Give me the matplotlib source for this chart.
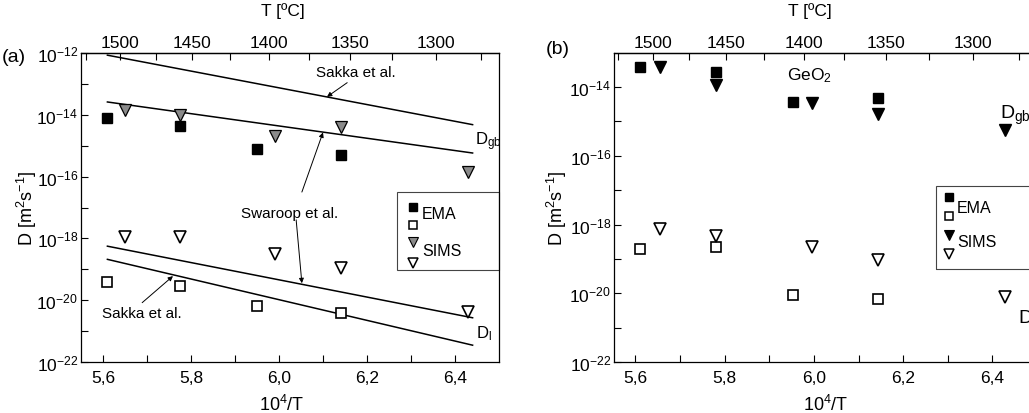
import numpy as np
import matplotlib
matplotlib.use('Agg')
import matplotlib.pyplot as plt
from matplotlib.ticker import FixedLocator, FuncFormatter, NullFormatter
from matplotlib.patches import Rectangle

plt.rcParams['font.family'] = ['Liberation Sans', 'DejaVu Sans']
plt.rcParams['mathtext.default'] = 'regular'

# ---- panel (a) data ----
a_x_ema = [5.61, 5.775, 5.95, 6.14]
a_x_sims = [5.65, 5.775, 5.99, 6.14, 6.43]
a_ema_gb = [7.6e-15, 4.2e-15, 7.8e-16, 4.9e-16]
a_ema_l = [4.0e-20, 2.8e-20, 6.3e-21, 3.8e-21]
a_sims_gb = [1.4e-14, 1.0e-14, 2.1e-15, 3.9e-15, 1.45e-16]
a_sims_l = [1.1e-18, 1.1e-18, 3.1e-19, 1.1e-19, 4.0e-21]

# literature lines (end points)
line_x = [5.61, 6.44]
sakka_gb = [8.5e-13, 4.8e-15]
swaroop_gb = [2.6e-14, 5.8e-16]
swaroop_l = [5.6e-19, 2.7e-21]
sakka_l = [2.1e-19, 3.5e-22]

# ---- panel (b) data (GeO2) ----
b_x_ema = [5.61, 5.78, 5.954, 6.144]
b_x_sims = [5.656, 5.78, 5.995, 6.144, 6.428]
b_ema_gb = [3.7e-14, 2.7e-14, 3.7e-15, 4.7e-15]
b_ema_l = [2.0e-19, 2.2e-19, 8.9e-21, 6.8e-21]
b_sims_gb = [3.9e-14, 1.15e-14, 3.4e-15, 1.66e-15, 5.6e-16]
b_sims_l = [7.6e-19, 4.6e-19, 2.2e-19, 9.1e-20, 7.6e-21]

x_ticks = [5.6, 5.8, 6.0, 6.2, 6.4]
t_ticks = [1500, 1450, 1400, 1350, 1300]

W, H = 1029, 414
top_px, bot_px = 54, 363
fig = plt.figure(figsize=(W / 100, H / 100), dpi=100)
ax1 = fig.add_axes([81 / W, 1 - bot_px / H, 418 / W, (bot_px - top_px) / H])
ax2 = fig.add_axes([614 / W, 1 - bot_px / H, 423 / W, (bot_px - top_px) / H])

gray = '#8a8a8a'
ms_sq = 7
ms_tri = 9


def fwd(x):
    x = np.asarray(x, dtype=float)
    with np.errstate(divide='ignore'):
        return 1e4 / x - 273.15


def inv(t):
    t = np.asarray(t, dtype=float)
    with np.errstate(divide='ignore'):
        return 1e4 / (t + 273.15)


def setup(ax, ylim):
    ax.set_yscale('log')
    ax.set_xlim(5.55, 6.5)
    ax.set_ylim(*ylim)
    ax.xaxis.set_major_locator(FixedLocator(x_ticks))
    ax.xaxis.set_minor_locator(FixedLocator([5.7, 5.9, 6.1, 6.3]))
    ax.xaxis.set_major_formatter(FuncFormatter(lambda v, p: ('%.1f' % v).replace('.', ',')))
    ax.yaxis.set_major_locator(FixedLocator([10.0 ** k for k in range(-22, -11, 2)]))
    ax.yaxis.set_minor_locator(FixedLocator([10.0 ** k for k in range(-21, -12, 2)]))
    ax.yaxis.set_major_formatter(FuncFormatter(lambda v, p: '$10^{%d}$' % round(np.log10(v))))
    ax.yaxis.set_minor_formatter(NullFormatter())
    ax.tick_params(which='both', direction='in', length=5, width=0.8, labelsize=12.5,
                   top=False, right=False)
    ax.tick_params(axis='y', pad=2)
    ax.tick_params(axis='x', pad=6)
    for s in ax.spines.values():
        s.set_linewidth(0.9)
    ax.set_xlabel('10$^4$/T', fontsize=13)
    ax.set_ylabel('D [m$^2$s$^{-1}$]', fontsize=13)

    sec = ax.secondary_xaxis('top', functions=(fwd, inv))
    sec.xaxis.set_major_locator(FixedLocator(t_ticks))
    sec.xaxis.set_minor_locator(FixedLocator([1525, 1475, 1425, 1375, 1325, 1275]))
    sec.xaxis.set_minor_formatter(NullFormatter())
    sec.tick_params(which='both', direction='in', length=5, width=0.8, labelsize=12.5, pad=2)
    sec.spines['top'].set_linewidth(0.9)
    return sec


def legend_box(ax, x0, y0, w, h, mx, ys, tx, tys, sims_col):
    ax.add_patch(Rectangle((x0, y0), w, h, transform=ax.transAxes, fill=False,
                           lw=0.8, ec='#444444', clip_on=False))
    ax.plot([mx], [ys[0]], 's', color='black', ms=5.5, transform=ax.transAxes, clip_on=False)
    ax.plot([mx], [ys[1]], 's', mfc='white', mec='black', mew=1.1, ms=5.5,
            transform=ax.transAxes, clip_on=False)
    ax.plot([mx], [ys[2]], 'v', mfc=sims_col, mec='black', mew=0.8, ms=7,
            transform=ax.transAxes, clip_on=False)
    ax.plot([mx], [ys[3]], 'v', mfc='white', mec='black', mew=1.1, ms=7,
            transform=ax.transAxes, clip_on=False)
    ax.text(tx, tys[0], 'EMA', transform=ax.transAxes, fontsize=11.5, va='center')
    ax.text(tx, tys[1], 'SIMS', transform=ax.transAxes, fontsize=11.5, va='center')


# ---- panel (a) ----
setup(ax1, (1e-22, 1e-12))
ax1.xaxis.set_label_coords(0.48, -0.104)
ax1.yaxis.set_label_coords(-0.101, 0.5)
ax1.plot(line_x, sakka_gb, color='black', lw=1.1)
ax1.plot(line_x, swaroop_gb, color='black', lw=1.1)
ax1.plot(line_x, swaroop_l, color='black', lw=1.1)
ax1.plot(line_x, sakka_l, color='black', lw=1.1)

ax1.plot(a_x_ema, a_ema_gb, 's', color='black', ms=ms_sq, ls='none')
ax1.plot(a_x_ema, a_ema_l, 's', mfc='white', mec='black', mew=1.2, ms=ms_sq, ls='none')
ax1.plot(a_x_sims, a_sims_gb, 'v', mfc=gray, mec='black', mew=0.9, ms=ms_tri, ls='none')
ax1.plot(a_x_sims, a_sims_l, 'v', mfc='white', mec='black', mew=1.2, ms=ms_tri, ls='none')

arrow = dict(arrowstyle='-|>', lw=0.7, color='black', mutation_scale=7, shrinkA=0, shrinkB=0)
ax1.text(6.175, 10 ** -12.63, 'Sakka et al.', fontsize=11, ha='center', va='center')
ax1.annotate('', xy=(6.109, 10 ** -13.42), xytext=(6.155, 10 ** -12.96), arrowprops=arrow)
ax1.text(6.025, 10 ** -17.17, 'Swaroop et al.', fontsize=11, ha='center', va='center')
ax1.annotate('', xy=(6.1, 10 ** -14.57), xytext=(6.052, 10 ** -16.5), arrowprops=arrow)
ax1.annotate('', xy=(6.052, 10 ** -19.45), xytext=(6.039, 10 ** -17.4), arrowprops=arrow)
ax1.text(5.689, 10 ** -20.41, 'Sakka et al.', fontsize=11, ha='center', va='center')
ax1.annotate('', xy=(5.759, 10 ** -19.22), xytext=(5.689, 10 ** -20.08), arrowprops=arrow)
ax1.text(6.445, 10 ** -14.85, 'D$_{gb}$', fontsize=12, va='center')
ax1.text(6.448, 10 ** -21.04, 'D$_{l}$', fontsize=12, va='center')

legend_box(ax1, 0.756, 0.298, 0.244, 0.252, 0.794, [0.503, 0.444, 0.387, 0.321],
           0.816, [0.481, 0.361], gray)

ax1.text(0.483, 1.14, 'T [ºC]', transform=ax1.transAxes, fontsize=12.5, ha='center', va='center')

# ---- panel (b) ----
setup(ax2, (1e-22, 10 ** -13.01))
ax2.set_xlim(5.552, 6.5)
ax2.xaxis.set_label_coords(0.50, -0.104)
ax2.yaxis.set_label_coords(-0.107, 0.5)
ax2.plot(b_x_ema, b_ema_gb, 's', color='black', ms=ms_sq, ls='none')
ax2.plot(b_x_ema, b_ema_l, 's', mfc='white', mec='black', mew=1.2, ms=ms_sq, ls='none')
ax2.plot(b_x_sims, b_sims_gb, 'v', color='black', ms=ms_tri, ls='none')
ax2.plot(b_x_sims, b_sims_l, 'v', mfc='white', mec='black', mew=1.2, ms=ms_tri, ls='none')

ax2.text(0.463, 0.93, 'GeO$_2$', transform=ax2.transAxes, fontsize=12.5, ha='center', va='center')
ax2.text(0.913, 0.80, 'D$_{gb}$', transform=ax2.transAxes, fontsize=14, va='center')
ax2.text(0.955, 0.145, 'D$_{l}$', transform=ax2.transAxes, fontsize=14, va='center')

legend_box(ax2, 0.761, 0.30, 0.3, 0.27, 0.792, [0.535, 0.474, 0.412, 0.348],
           0.811, [0.50, 0.39], 'black')

ax2.text(0.463, 1.14, 'T [ºC]', transform=ax2.transAxes, fontsize=12.5, ha='center', va='center')

fig.text(0.002, 1 - 58 / 414, '(a)', fontsize=14, va='center')
fig.text(0.53, 1 - 50 / 414, '(b)', fontsize=14, va='center')

fig.savefig('out.png', dpi=100)
